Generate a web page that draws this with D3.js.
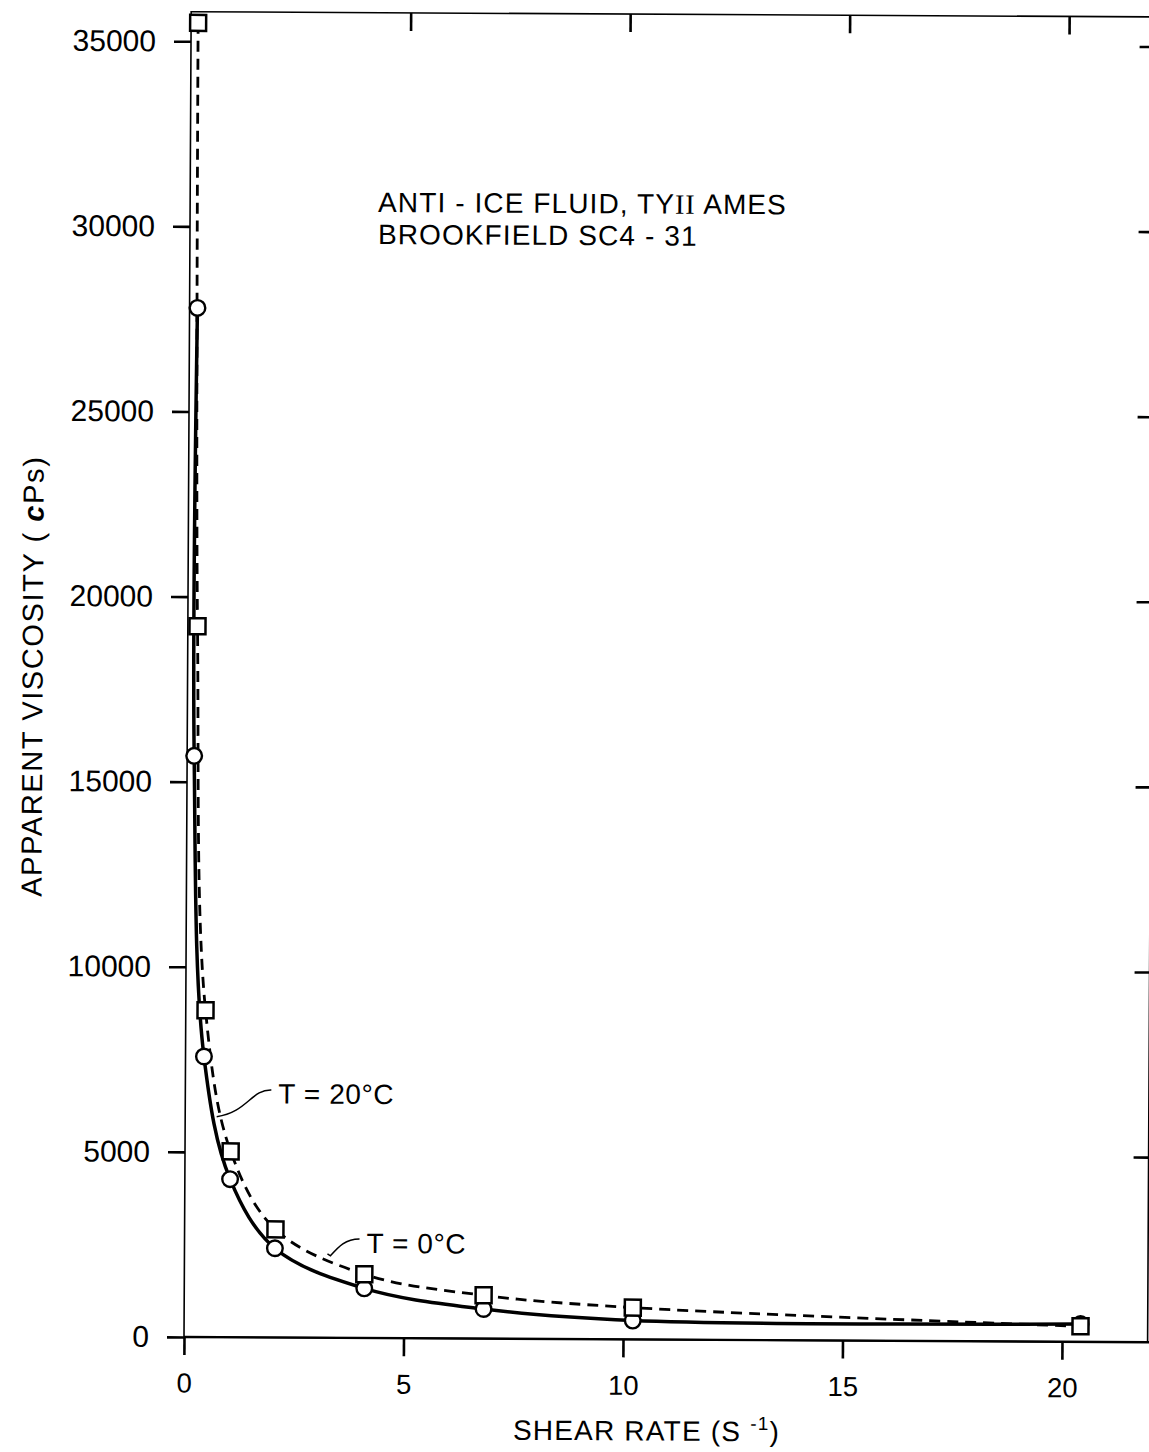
<!DOCTYPE html>
<html><head><meta charset="utf-8">
<script src="https://cdn.jsdelivr.net/npm/d3@7"></script>
<style>body{margin:0;background:#fff}svg{display:block}</style>
</head><body>
<svg id="c" width="1149" height="1452"></svg>
<script>
// ---- data ----
const xTicks = [0, 5, 10, 15, 20];
const yTicks = [0, 5000, 10000, 15000, 20000, 25000, 30000, 35000];
// T = 0°C (squares, dashed)
const shear0 = [0.16, 0.22, 0.45, 1.04, 2.07, 4.1, 6.82, 10.22, 20.42];
const visc0  = [35500, 19200, 8830, 5020, 2920, 1720, 1170, 860, 420];
// T = 20°C (circles, solid)
const shear20 = [0.18, 0.16, 0.42, 1.03, 2.06, 4.1, 6.82, 10.22, 20.42];
const visc20  = [27800, 15700, 7580, 4270, 2410, 1340, 800, 510, 480];
const titleLines = ["ANTI - ICE FLUID, TY", "BROOKFIELD SC4 - 31"];

// ---- layout ----
const X0 = 184, Y0 = 1337;
const xS = d3.scaleLinear().domain([0, 21.95]).range([X0, X0 + 21.95 * 43.9]);
const yS = d3.scaleLinear().domain([0, 35800]).range([Y0, Y0 - 35800 * 0.03702]);
const FONT = "'Liberation Sans', Arial, Helvetica, sans-serif";

const svg = d3.select("#c");
svg.append("rect").attr("width", 1149).attr("height", 1452).attr("fill", "#fff");
const g = svg.append("g").attr("transform", `rotate(0.31, ${X0}, ${Y0})`);

// frame
g.append("rect")
  .attr("x", xS(0)).attr("y", yS(35800))
  .attr("width", xS(21.95) - xS(0)).attr("height", yS(0) - yS(35800))
  .attr("fill", "none").attr("stroke", "#000").attr("stroke-width", 1.6);
g.append("line").attr("x1", xS(0)).attr("x2", xS(21.95) + 4).attr("y1", yS(0)).attr("y2", yS(0))
  .attr("stroke", "#000").attr("stroke-width", 2.4);

function styleAxis(sel, fs) {
  sel.select(".domain").remove();
  sel.selectAll(".tick line").attr("stroke", "#000").attr("stroke-width", 2.6);
  sel.selectAll(".tick text").attr("fill", "#000").style("font-family", FONT).style("font-size", fs + "px");
}

const axLeft = g.append("g").attr("transform", `translate(${X0},0)`)
  .call(d3.axisLeft(yS).tickValues(yTicks).tickSize(17).tickPadding(18).tickFormat(d3.format("d")));
styleAxis(axLeft, 30);

const axBottom = g.append("g").attr("transform", `translate(0,${Y0})`)
  .call(d3.axisBottom(xS).tickValues(xTicks).tickSize(18).tickPadding(18).tickFormat(d3.format("d")));
styleAxis(axBottom, 27.5);

const axTop = g.append("g").attr("transform", `translate(0,${yS(35800)})`)
  .call(d3.axisTop(xS).tickValues(xTicks.slice(1)).tickSize(-18).tickFormat(""));
styleAxis(axTop, 10);

const axRight = g.append("g").attr("transform", `translate(${xS(21.95)},0)`)
  .call(d3.axisRight(yS).tickValues(yTicks.slice(1)).tickSize(-15).tickFormat(""));
styleAxis(axRight, 10);

// curves
const pts0 = shear0.map((s, i) => [s, visc0[i]]);
const pts20 = shear20.map((s, i) => [s, visc20[i]]);
const line = d3.line().x(d => xS(d[0])).y(d => yS(d[1])).curve(d3.curveCatmullRom.alpha(0.5));

g.append("path").attr("d", line(pts20)).attr("fill", "none")
  .attr("stroke", "#000").attr("stroke-width", 3.5);
g.append("path").attr("d", line(pts0)).attr("fill", "none")
  .attr("stroke", "#000").attr("stroke-width", 2.8).attr("stroke-dasharray", "11,7");

// markers
g.selectAll("circle.m").data(pts20).join("circle").attr("class", "m")
  .attr("cx", d => xS(d[0])).attr("cy", d => yS(d[1])).attr("r", 7.8)
  .attr("fill", "#fff").attr("stroke", "#000").attr("stroke-width", 2.4);
const S = 16;
g.selectAll("rect.m").data(pts0).join("rect").attr("class", "m")
  .attr("x", d => xS(d[0]) - S / 2).attr("y", d => yS(d[1]) - S / 2)
  .attr("width", S).attr("height", S)
  .attr("fill", "#fff").attr("stroke", "#000").attr("stroke-width", 2.5);

// annotation text
const t1 = g.append("text").attr("x", 372).attr("y", 211).style("font-family", FONT)
  .style("font-size", "28px").style("letter-spacing", "1.1px");
t1.append("tspan").text(titleLines[0]);
t1.append("tspan").style("font-family", "'Liberation Serif', 'Times New Roman', serif").text("II");
t1.append("tspan").text(" AMES");
g.append("text").attr("x", 372).attr("y", 243).style("font-family", FONT)
  .style("font-size", "28px").style("letter-spacing", "1.1px").text(titleLines[1]);

// curve labels
g.append("text").attr("x", 277).attr("y", 1103).style("font-family", FONT)
  .style("font-size", "28px").style("letter-spacing", "0.6px").text("T = 20°C");
g.append("path").attr("d", "M270,1089.5 C250,1089 246,1112 215.5,1116.5").attr("fill", "none").attr("stroke", "#000").attr("stroke-width", 1.5);
g.append("text").attr("x", 366).attr("y", 1252).style("font-family", FONT)
  .style("font-size", "28px").style("letter-spacing", "0.6px").text("T = 0°C");
g.append("path").attr("d", "M359,1238 C345,1238 338,1246 330,1255 L327,1253").attr("fill", "none").attr("stroke", "#000").attr("stroke-width", 1.5);

// axis titles
const xt = g.append("text").attr("x", 647).attr("y", 1438).attr("text-anchor", "middle")
  .style("font-family", FONT).style("font-size", "28px").style("letter-spacing", "1.2px");
xt.append("tspan").text("SHEAR RATE (S ");
xt.append("tspan").attr("dy", -11).style("font-size", "19px").text("-1");
xt.append("tspan").attr("dy", 11).text(")");

const yt = g.append("text").attr("transform", "translate(39,677) rotate(-90)").attr("text-anchor", "middle")
  .style("font-family", FONT).style("font-size", "29px").style("letter-spacing", "1.6px");
yt.append("tspan").text("APPARENT VISCOSITY ( ");
yt.append("tspan").style("font-style", "italic").style("font-weight", "bold").text("c");
yt.append("tspan").text("Ps)");
</script>
</body></html>
